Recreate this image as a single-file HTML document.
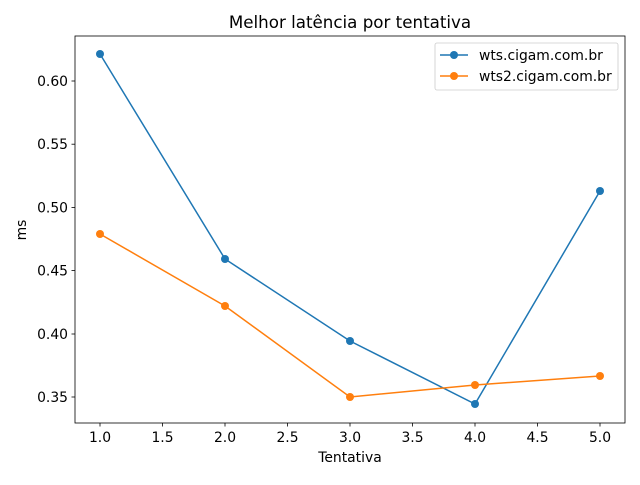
<!DOCTYPE html>
<html><head><meta charset="utf-8"><style>body{margin:0;background:#fff}</style></head><body>
<svg width="640" height="480" xmlns="http://www.w3.org/2000/svg" font-family="DejaVu Sans, Liberation Sans, sans-serif">
<rect width="640" height="480" fill="#fff"/>
<text x="350" y="28" font-size="16.7" text-anchor="middle">Melhor latência por tentativa</text>
<g stroke="#000" stroke-width="0.8">
<rect x="75" y="36" width="550" height="387" fill="none"/>
<line x1="100" y1="423" x2="100" y2="426.5"/><line x1="162.5" y1="423" x2="162.5" y2="426.5"/><line x1="225" y1="423" x2="225" y2="426.5"/><line x1="287.5" y1="423" x2="287.5" y2="426.5"/><line x1="350" y1="423" x2="350" y2="426.5"/><line x1="412.5" y1="423" x2="412.5" y2="426.5"/><line x1="475" y1="423" x2="475" y2="426.5"/><line x1="537.5" y1="423" x2="537.5" y2="426.5"/><line x1="600" y1="423" x2="600" y2="426.5"/>
<line x1="71.5" y1="397" x2="75" y2="397"/><line x1="71.5" y1="334" x2="75" y2="334"/><line x1="71.5" y1="270.6" x2="75" y2="270.6"/><line x1="71.5" y1="207.4" x2="75" y2="207.4"/><line x1="71.5" y1="144.2" x2="75" y2="144.2"/><line x1="71.5" y1="81" x2="75" y2="81"/>
</g>
<g font-size="13.9" text-anchor="middle">
<text x="100" y="442">1.0</text><text x="162.5" y="442">1.5</text><text x="225" y="442">2.0</text><text x="287.5" y="442">2.5</text><text x="350" y="442">3.0</text><text x="412.5" y="442">3.5</text><text x="475" y="442">4.0</text><text x="537.5" y="442">4.5</text><text x="600" y="442">5.0</text>
<text x="350" y="462">Tentativa</text>
</g>
<g font-size="13.9" text-anchor="end">
<text x="68" y="402">0.35</text><text x="68" y="339">0.40</text><text x="68" y="275.6">0.45</text><text x="68" y="212.4">0.50</text><text x="68" y="149.2">0.55</text><text x="68" y="86">0.60</text>
</g>
<text x="26" y="230" font-size="13.9" text-anchor="middle" transform="rotate(-90 26 230)">ms</text>
<polyline points="100,54 225,259 350,341 475,404 600,191" fill="none" stroke="#1f77b4" stroke-width="1.5"/>
<polyline points="100,234 225,306 350,397 475,385 600,376" fill="none" stroke="#ff7f0e" stroke-width="1.5"/>
<g fill="#1f77b4"><circle cx="100" cy="54" r="4"/><circle cx="225" cy="259" r="4"/><circle cx="350" cy="341" r="4"/><circle cx="475" cy="404" r="4"/><circle cx="600" cy="191" r="4"/></g>
<g fill="#ff7f0e"><circle cx="100" cy="234" r="4"/><circle cx="225" cy="306" r="4"/><circle cx="350" cy="397" r="4"/><circle cx="475" cy="385" r="4"/><circle cx="600" cy="376" r="4"/></g>
<rect x="435" y="43" width="183" height="47" rx="2" fill="#fff" stroke="#ccc" stroke-width="0.8"/>
<line x1="440" y1="55" x2="468" y2="55" stroke="#1f77b4" stroke-width="1.5"/><circle cx="454" cy="55" r="4" fill="#1f77b4"/>
<line x1="440" y1="76" x2="468" y2="76" stroke="#ff7f0e" stroke-width="1.5"/><circle cx="454" cy="76" r="4" fill="#ff7f0e"/>
<text x="479" y="60" font-size="13.9">wts.cigam.com.br</text>
<text x="479" y="81" font-size="13.9">wts2.cigam.com.br</text>
</svg>
</body></html>
